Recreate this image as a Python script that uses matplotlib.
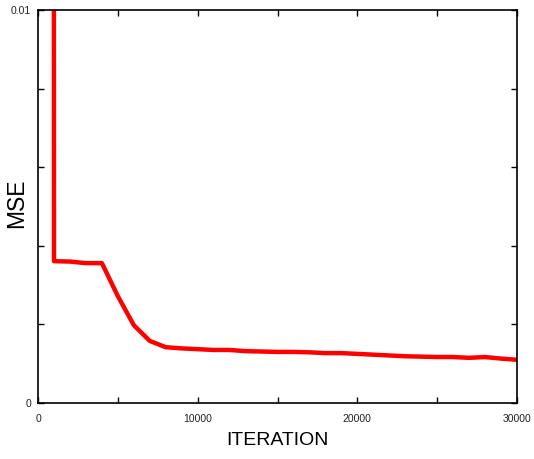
import matplotlib
matplotlib.use("Agg")
import matplotlib.pyplot as plt
import numpy as np

plt.rcParams['font.family'] = ['Liberation Sans', 'DejaVu Sans']

iterations = [950, 1000, 2000, 3000, 4000, 5000, 6000, 7000, 8000, 9000, 10000,
              11000, 12000, 13000, 14000, 15000, 16000, 17000, 18000, 19000, 20000,
              21000, 22000, 23000, 24000, 25000, 26000, 27000, 28000, 29000, 30000]
mse = [0.05, 0.00361, 0.00360, 0.00356, 0.00356, 0.00272, 0.00198, 0.00158, 0.00142,
       0.00139, 0.00137, 0.00135, 0.00135, 0.00132, 0.00131, 0.00130, 0.00130,
       0.00129, 0.00127, 0.00127, 0.00125, 0.00123, 0.00121, 0.00119, 0.00118,
       0.00117, 0.00117, 0.00115, 0.00117, 0.00113, 0.00110]

fig = plt.figure(figsize=(5.34, 4.59), dpi=100)
ax = fig.add_axes([0.0712, 0.122, 0.897, 0.856])

ax.plot(iterations, mse, color='#ff0000', linewidth=3.2)

ax.set_xlim(0, 30000)
ax.set_ylim(0, 0.01)

xt = np.arange(0, 30001, 5000)
ax.set_xticks(xt)
ax.set_xticklabels(['0', '', '10000', '', '20000', '', '30000'])
yt = np.linspace(0, 0.01, 6)
ax.set_yticks(yt)
ax.set_yticklabels(['0', '', '', '', '', '0.01'])

ax.tick_params(direction='in', top=True, right=True, length=4, width=1,
               labelsize=7.5, labelcolor='#222222')
ax.tick_params(axis='x', pad=8)
ax.tick_params(axis='y', pad=5)
for s in ax.spines.values():
    s.set_linewidth(1.2)

ax.set_xlabel('ITERATION', fontsize=14, labelpad=6)
fig.text(17 / 534, 1 - 203 / 459, 'MSE', fontsize=16.5, rotation=90,
         ha='center', va='center')

fig.savefig('out.png', dpi=100)
